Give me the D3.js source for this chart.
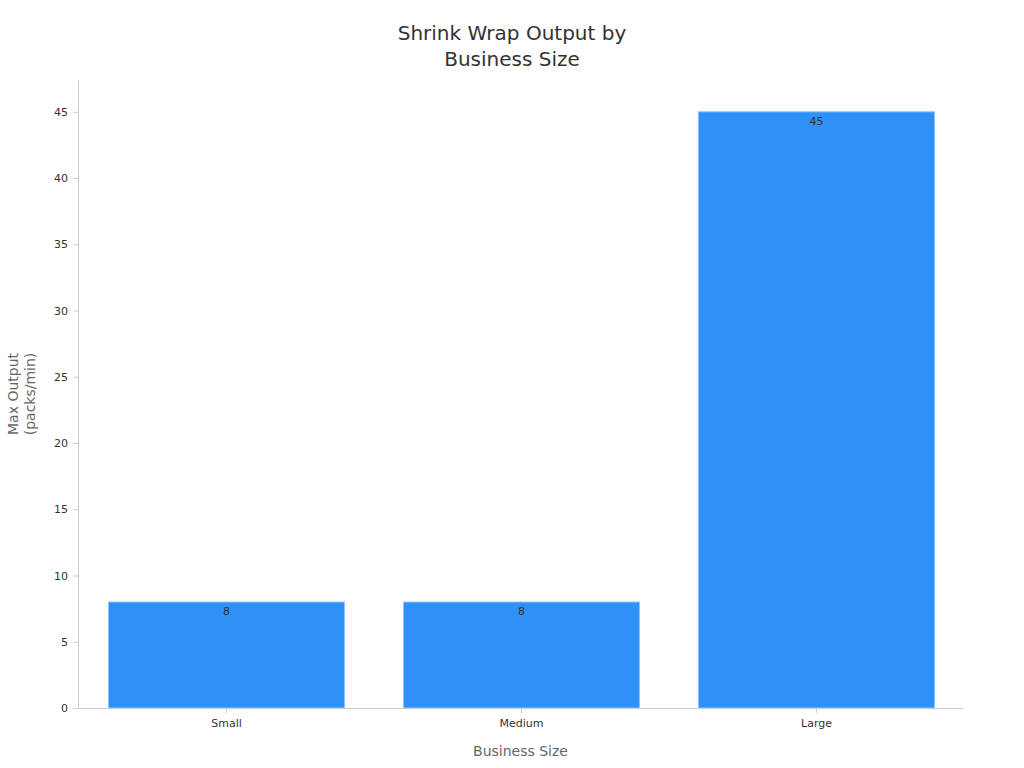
<!DOCTYPE html>
<html>
<head>
<meta charset="utf-8">
<script src="https://cdn.jsdelivr.net/npm/d3@7"></script>
<style>
  body { margin: 0; background: #fff; }
  svg, svg text { font-family: "DejaVu Sans", sans-serif; }
  .axis path, .axis line { stroke: #ccc; }
  .axis text { fill: #333; font-size: 11px; font-family: "DejaVu Sans", sans-serif; }
</style>
</head>
<body>
<div class="container"></div>
<script>
// chart data
const categories = ["Small", "Medium", "Large"];
const outputValues = [8, 8, 45];
const yTicks = [0, 5, 10, 15, 20, 25, 30, 35, 40, 45];
const yMax = 47.4;

const width = 1024;
const height = 768;
const marginTop = 80;
const marginRight = 61;
const marginBottom = 60;
const marginLeft = 78;

const svg = d3.select(".container")
  .append("svg")
  .attr("width", width)
  .attr("height", height);

const x = d3.scaleBand()
  .domain(categories)
  .range([marginLeft + 1, width - marginRight + 1])
  .paddingInner(0.2)
  .paddingOuter(0.1);

const y = d3.scaleLinear()
  .domain([0, yMax])
  .range([height - marginBottom, marginTop]);

// bars
svg.selectAll(".bar")
  .data(categories)
  .enter()
  .append("rect")
  .attr("class", "bar")
  .attr("x", (d) => x(d))
  .attr("y", (d, i) => y(outputValues[i]))
  .attr("width", x.bandwidth())
  .attr("height", (d, i) => y(0) - y(outputValues[i]))
  .attr("fill", "#2e91f8")
  .attr("stroke", "#8cc4fb")
  .attr("stroke-width", 1);

// value labels inside top of bars
svg.selectAll(".label")
  .data(categories)
  .enter()
  .append("text")
  .attr("x", (d) => x(d) + x.bandwidth() / 2)
  .attr("y", (d, i) => y(outputValues[i]) + 13)
  .attr("text-anchor", "middle")
  .attr("font-size", 11)
  .attr("fill", "#333")
  .text((d, i) => outputValues[i]);

// x axis
const xAxis = svg.append("g")
  .attr("class", "axis")
  .attr("transform", `translate(0,${height - marginBottom})`)
  .call(d3.axisBottom(x).tickSizeOuter(0).tickSize(5).tickPadding(6));
xAxis.select(".domain").attr("d", `M${marginLeft},0.5H${width - marginRight}`);

// y axis
const yAxis = svg.append("g")
  .attr("class", "axis")
  .attr("transform", `translate(${marginLeft},0)`)
  .call(d3.axisLeft(y).tickValues(yTicks).tickSizeOuter(0).tickSize(5).tickPadding(5));
yAxis.select(".domain").attr("d", `M0.5,${height - marginBottom}V${marginTop}`);

// title
svg.append("text")
  .attr("x", 512)
  .attr("text-anchor", "middle")
  .attr("font-size", 20)
  .attr("fill", "#333")
  .selectAll("tspan")
  .data(["Shrink Wrap Output by", "Business Size"])
  .enter()
  .append("tspan")
  .attr("x", 512)
  .attr("y", (d, i) => 40 + i * 26)
  .text((d) => d);

// axis titles
svg.append("text")
  .attr("x", (marginLeft + width - marginRight) / 2)
  .attr("y", 756)
  .attr("text-anchor", "middle")
  .attr("font-size", 14)
  .attr("fill", "#666")
  .text("Business Size");

svg.append("text")
  .attr("transform", `translate(0,${(marginTop + height - marginBottom) / 2}) rotate(-90)`)
  .attr("text-anchor", "middle")
  .attr("font-size", 14)
  .attr("fill", "#666")
  .selectAll("tspan")
  .data(["Max Output", "(packs/min)"])
  .enter()
  .append("tspan")
  .attr("x", 0)
  .attr("y", (d, i) => 18 + i * 17)
  .text((d) => d);
</script>
</body>
</html>
